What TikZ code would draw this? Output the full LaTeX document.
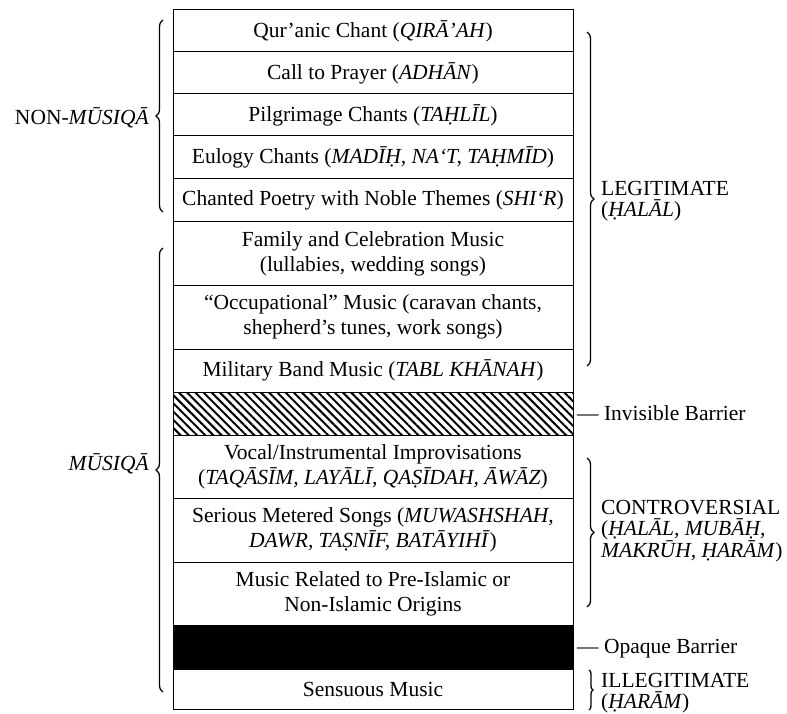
\documentclass[tikz,border=0pt]{standalone}
\usepackage{fontspec}
\setmainfont{Liberation Serif}
\usetikzlibrary{decorations.pathreplacing,patterns.meta}
\newcommand{\rowfont}{\fontsize{21.5}{25}\selectfont}
\newcommand{\lblfont}{\fontsize{21.5}{21}\selectfont}
\begin{document}
\begin{tikzpicture}[x=1pt,y=-1pt,
  rowbox/.style={draw, line width=1pt, minimum width=400pt, inner sep=0pt, align=center, font=\rowfont},
  lbl/.style={inner sep=0pt, font=\lblfont},
  brc/.style={decorate, decoration={brace, amplitude=7pt}, line width=1.3pt}]
\useasboundingbox (0,0) rectangle (787,714);
% column of rows
\node[rowbox, minimum height=42pt] (r1) at (373,31) {Qur'anic Chant (\textit{QIRĀ'AH})};
\node[rowbox, minimum height=42pt] (r2) at (373,73) {Call to Prayer (\textit{ADHĀN})};
\node[rowbox, minimum height=42pt] (r3) at (373,115) {Pilgrimage Chants (\textit{TAḤLĪL})};
\node[rowbox, minimum height=43pt] (r4) at (373,157.5) {Eulogy Chants (\textit{MADĪḤ, NA‘T, TAḤMĪD})};
\node[rowbox, minimum height=43pt] (r5) at (373,200.5) {Chanted Poetry with Noble Themes (\textit{SHI‘R})};
\node[rowbox, minimum height=63pt] (r6) at (373,253.5) {Family and Celebration Music\\(lullabies, wedding songs)};
\node[rowbox, minimum height=64pt] (r7) at (373,317) {“Occupational” Music (caravan chants,\\shepherd’s tunes, work songs)};
\node[rowbox, minimum height=43pt] (r8) at (373,370.5) {Military Band Music (\textit{TABL KHĀNAH})};
\node[rowbox, minimum height=43pt, pattern={Lines[angle=-45,distance=5.8pt,line width=2pt]}] (r9) at (373,413.5) {};
\node[rowbox, minimum height=63pt] (r10) at (373,466.5) {Vocal/Instrumental Improvisations\\(\textit{TAQĀSĪM, LAYĀLĪ, QAṢĪDAH, ĀWĀZ})};
\node[rowbox, minimum height=64pt] (r11) at (373,530) {Serious Metered Songs (\textit{MUWASHSHAH,}\\\textit{DAWR, TAṢNĪF, BATĀYIHĪ})};
\node[rowbox, minimum height=63pt] (r12) at (373,593.5) {Music Related to Pre-Islamic or\\Non-Islamic Origins};
\node[rowbox, minimum height=44pt, fill=black] (r13) at (373,647) {};
\node[rowbox, minimum height=40pt] (r14) at (373,689) {Sensuous Music};
% left labels and braces
\node[lbl, anchor=east] (nonmus) at (149,118) {NON-\textit{MŪSIQĀ}};
\node[lbl, anchor=east] (mus) at (149,464) {\textit{MŪSIQĀ}};
\coordinate (nb1) at (163,212); \coordinate (nb2) at (163,20);
\coordinate (mb1) at (163,692); \coordinate (mb2) at (163,248);
\draw[brc] (nb1) -- (nb2);
\draw[brc] (mb1) -- (mb2);
% right braces and labels
\coordinate (lb1) at (587,32); \coordinate (lb2) at (587,366);
\coordinate (cb1) at (587,458); \coordinate (cb2) at (587,607);
\coordinate (ib1) at (589,670); \coordinate (ib2) at (589,710);
\draw[brc] (lb1) -- (lb2);
\draw[brc] (cb1) -- (cb2);
\draw[brc, decoration={brace, amplitude=4pt}] (ib1) -- (ib2);
\node[lbl, anchor=west, align=left] (legit) at (601,201) {LEGITIMATE\\(\textit{ḤALĀL})};
\node[lbl, anchor=west, align=left] (contro) at (601,531) {CONTROVERSIAL\\(\textit{ḤALĀL, MUBĀḤ,}\\\textit{MAKRŪH, ḤARĀM})};
\node[lbl, anchor=west, align=left] (illeg) at (601,693) {ILLEGITIMATE\\(\textit{ḤARĀM})};
\node[lbl, anchor=west] (invis) at (577,413) {— Invisible Barrier};
\node[lbl, anchor=west] (opaq) at (577,649) {— Opaque Barrier};
\end{tikzpicture}
\end{document}
